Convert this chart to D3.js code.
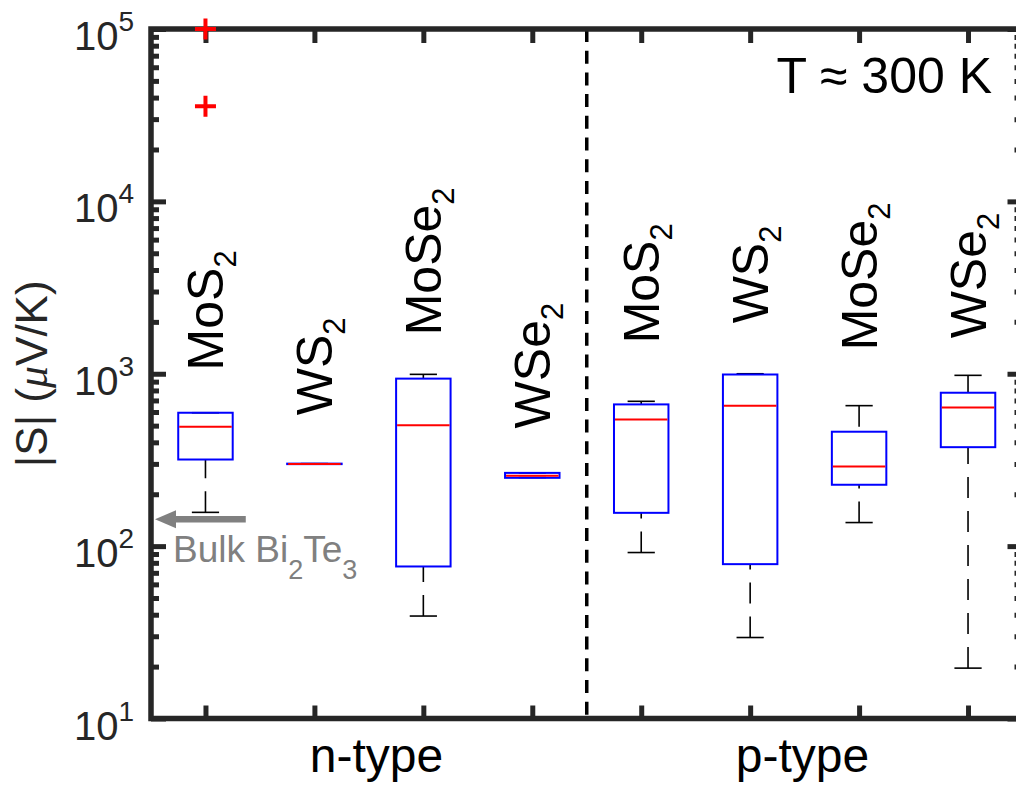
<!DOCTYPE html>
<html><head><meta charset="utf-8">
<script src="https://cdn.jsdelivr.net/npm/d3@7"></script>
<style>
body{margin:0;background:#fff}
svg{display:block}
text{font-family:"Liberation Sans",Arial,Helvetica,sans-serif}
</style>
</head><body>
<svg id="chart" width="1016" height="789"></svg>
<script>
// ---- data ----
const materials   = ["MoS","WS","MoSe","WSe","MoS","WS","MoSe","WSe"];
const materialSub = ["2","2","2","2","2","2","2","2"];
const positions   = [1,2,3,4,5,6,7,8];
const whiskerLow  = [157, 300, 39.3, 250, 91.8, 29.5, 137, 19.6];
const quartile1   = [318, 299, 76.2, 249, 156, 78.6, 227, 375];
const medians     = [493, 300, 502, 256, 543, 653, 290, 638];
const quartile3   = [594, 301, 937, 266, 664, 990, 461, 776];
const whiskerHigh = [594, 301, 992, 266, 692, 1000, 653, 979];
const outliers    = [[100000, 35600], [], [], [], [], [], [], []];
const labelAt     = [1046, 574, 1671, 482, 1501, 1961, 1367, 1605];
const groupLabels = ["n-type", "p-type"];
const groupLabelPos = [2.57, 6.48];
const dividerPos  = 4.5;
const yTickValues = [1e1, 1e2, 1e3, 1e4, 1e5];
const yTickExponents = ["1", "2", "3", "4", "5"];
const bulkBi2Te3  = 143;
const tempLabel   = "T \u2248 300 K";

// ---- layout ----
const svg = d3.select("#chart");
const axisColor = "#262626";
const x = d3.scaleLinear().domain([0.5, 8.5]).range([151, 1022.5]);
const y = d3.scaleLog().domain([10, 1e5]).range([718.5, 29]);
const step = x(2) - x(1);

const minorTicks = [];
for (let d = 1; d <= 4; d++) for (let k = 2; k <= 9; k++) minorTicks.push(k * Math.pow(10, d));

function styleAxis(g) {
  g.select(".domain").remove();
  g.selectAll(".tick line").attr("stroke", axisColor).attr("stroke-width", 5);
  g.selectAll(".tick text").remove();
}

// divider
svg.append("line")
  .attr("x1", x(dividerPos)).attr("x2", x(dividerPos))
  .attr("y1", y(1e5)).attr("y2", y(10))
  .attr("stroke", "#000").attr("stroke-width", 3.5)
  .attr("stroke-dasharray", "13,8.7");

// ticks
svg.append("g").attr("transform", `translate(${x.range()[0]},0)`)
  .call(d3.axisRight(y).tickValues(yTickValues).tickSize(15).tickFormat("")).call(styleAxis);
svg.append("g").attr("transform", `translate(${x.range()[0]},0)`)
  .call(d3.axisRight(y).tickValues(minorTicks).tickSize(8).tickFormat("")).call(styleAxis);
svg.append("g").attr("transform", `translate(${x.range()[1]},0)`)
  .call(d3.axisLeft(y).tickValues(yTickValues).tickSize(15).tickFormat("")).call(styleAxis);
svg.append("g").attr("transform", `translate(${x.range()[1]},0)`)
  .call(d3.axisLeft(y).tickValues(minorTicks).tickSize(8).tickFormat("")).call(styleAxis);
svg.append("g").attr("transform", `translate(0,${y.range()[1]})`)
  .call(d3.axisBottom(x).tickValues(positions).tickSize(14).tickFormat("")).call(styleAxis);
svg.append("g").attr("transform", `translate(0,${y.range()[0]})`)
  .call(d3.axisTop(x).tickValues(positions).tickSize(13).tickFormat("")).call(styleAxis);

// frame
svg.append("rect")
  .attr("x", x.range()[0]).attr("y", y.range()[1])
  .attr("width", x.range()[1] - x.range()[0])
  .attr("height", y.range()[0] - y.range()[1])
  .attr("fill", "none").attr("stroke", axisColor).attr("stroke-width", 5.5);

// y tick labels
const yt = svg.append("g").selectAll("text").data(yTickValues).join("text")
  .attr("x", 134).attr("y", d => y(d) + 21)
  .attr("text-anchor", "end").attr("font-size", 40).attr("fill", axisColor);
yt.append("tspan").text("10");
yt.append("tspan").attr("dy", -19).attr("font-size", 28).text((d, i) => yTickExponents[i]);

// y axis label
const yl = svg.append("text")
  .attr("transform", `translate(47,${(y.range()[0] + y.range()[1]) / 2}) rotate(-90)`)
  .attr("text-anchor", "middle").attr("font-size", 44).attr("fill", axisColor);
yl.append("tspan").text("|S| (");
yl.append("tspan").attr("font-style", "italic").attr("font-family", "'Liberation Serif',serif").text("\u03bc");
yl.append("tspan").text("V/K)");

// boxes
const idx = d3.range(materials.length);
const bw = step * 0.25, cw = step * 0.125;
const g = svg.append("g");
// whiskers (drawn from cap toward box)
g.selectAll(".wl").data(idx).join("line")
  .attr("x1", i => x(positions[i])).attr("x2", i => x(positions[i]))
  .attr("y1", i => y(whiskerLow[i])).attr("y2", i => y(quartile1[i]))
  .attr("stroke", "#000").attr("stroke-width", 1.6).attr("stroke-dasharray", "21,13");
g.selectAll(".wh").data(idx).join("line")
  .attr("x1", i => x(positions[i])).attr("x2", i => x(positions[i]))
  .attr("y1", i => y(whiskerHigh[i])).attr("y2", i => y(quartile3[i]))
  .attr("stroke", "#000").attr("stroke-width", 1.6).attr("stroke-dasharray", "21,13");
// caps
[whiskerLow, whiskerHigh].forEach(arr => {
  g.append("g").selectAll("line").data(idx).join("line")
    .attr("x1", i => x(positions[i]) - cw).attr("x2", i => x(positions[i]) + cw)
    .attr("y1", i => y(arr[i])).attr("y2", i => y(arr[i]))
    .attr("stroke", "#000").attr("stroke-width", 1.6);
});
// box
g.append("g").selectAll("rect").data(idx).join("rect")
  .attr("x", i => x(positions[i]) - bw).attr("width", 2 * bw)
  .attr("y", i => y(quartile3[i]))
  .attr("height", i => Math.max(0.5, y(quartile1[i]) - y(quartile3[i])))
  .attr("fill", "none").attr("stroke", "#0000ff").attr("stroke-width", 2);
// median
g.append("g").selectAll("line").data(idx).join("line")
  .attr("x1", i => x(positions[i]) - bw + 1).attr("x2", i => x(positions[i]) + bw - 1)
  .attr("y1", i => y(medians[i])).attr("y2", i => y(medians[i]))
  .attr("stroke", "#ff0000").attr("stroke-width", 2);
// outliers
const outPts = [];
outliers.forEach((arr, i) => arr.forEach(v => outPts.push({ i, v })));
g.append("g").selectAll("path").data(outPts).join("path")
  .attr("transform", d => `translate(${x(positions[d.i])},${y(d.v)})`)
  .attr("d", "M-10.5,0H10.5M0,-10.5V10.5")
  .attr("stroke", "#ff0000").attr("stroke-width", 4).attr("fill", "none");

// material labels
const ml = svg.append("g").selectAll("text").data(idx).join("text")
  .attr("transform", i => `translate(${x(positions[i])},${y(labelAt[i])}) rotate(-90)`)
  .attr("dy", 18).attr("font-size", 50).attr("fill", "#000");
ml.append("tspan").text(i => materials[i]);
ml.append("tspan").attr("dy", 13).attr("font-size", 31).text(i => materialSub[i]);

// group labels
svg.append("g").selectAll("text").data(groupLabels).join("text")
  .attr("x", (d, i) => x(groupLabelPos[i])).attr("y", 772)
  .attr("text-anchor", "middle").attr("font-size", 48).attr("fill", "#000")
  .text(d => d);

// temperature label
svg.append("text").attr("x", 992).attr("y", 93)
  .attr("text-anchor", "end").attr("font-size", 50).attr("fill", "#000")
  .text(tempLabel);

// bulk Bi2Te3 arrow
const ay = y(bulkBi2Te3);
const tipX = x.range()[0] + 4, tailX = x(1.37);
svg.append("line").attr("x1", tailX).attr("x2", tipX + 18).attr("y1", ay).attr("y2", ay)
  .attr("stroke", "#808080").attr("stroke-width", 6.5);
svg.append("path")
  .attr("d", `M${tipX},${ay}L${tipX + 21},${ay - 9}L${tipX + 21},${ay + 9}Z`)
  .attr("fill", "#808080");
const bt = svg.append("text").attr("x", 173).attr("y", 562)
  .attr("font-size", 37).attr("fill", "#808080");
bt.append("tspan").text("Bulk Bi");
bt.append("tspan").attr("dy", 17).attr("font-size", 27).text("2");
bt.append("tspan").attr("dy", -17).text("Te");
bt.append("tspan").attr("dy", 17).attr("font-size", 27).text("3");
</script>
</body></html>
